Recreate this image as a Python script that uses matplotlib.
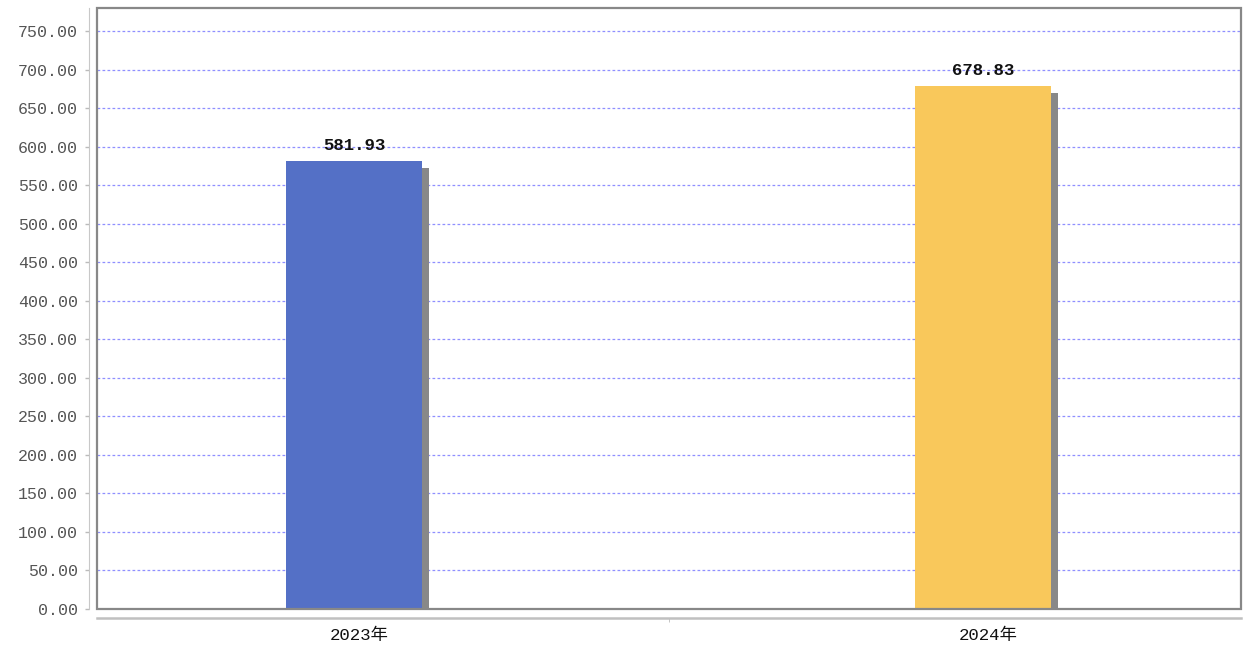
import matplotlib.pyplot as plt
from matplotlib import transforms
from matplotlib.patches import Rectangle

plt.rcParams['font.family'] = ['Liberation Mono', 'Noto Sans CJK SC', 'DejaVu Sans']

years = ['2023年', '2024年']
values = [581.93, 678.83]
bar_colors = ['#5470C6', '#F9C85B']
y_ticks = list(range(0, 751, 50))

fig = plt.figure(figsize=(12.45, 6.49), dpi=100)
ax = fig.add_axes([97 / 1245, 40 / 649, 1144 / 1245, 601 / 649])

x = list(range(len(years)))
width = 0.216

# тень столбцов: тот же столбец, сдвинутый на 7 px вправо и вниз
shadow = transforms.offset_copy(ax.transData, fig=fig, x=7, y=-7, units='dots')
ax.bar(x, values, width=width, color='#888888', transform=shadow, zorder=2)
ax.bar(x, values, width=width, color=bar_colors, zorder=3)

for xi, v in zip(x, values):
    ax.text(xi, v + 10, '%.2f' % v, ha='center', va='bottom', fontsize=12.5,
            fontweight='bold', color='#111111', zorder=4)

ax.set_xlim(-0.409, 1.410)
ax.set_ylim(0, 780)

ax.set_yticks(y_ticks)
ax.set_yticklabels(['%.2f' % t for t in y_ticks])
ax.set_xticks([xi + 0.008 for xi in x])
ax.set_xticklabels(years, family=['Noto Sans CJK SC', 'DejaVu Sans'])
ax.set_xticks([0.5], minor=True)

ax.tick_params(axis='y', length=3, width=1, color='#bbbbbb', labelsize=12,
               labelcolor='#555555', pad=5)
ax.tick_params(axis='x', which='major', length=0, labelsize=12.5, labelcolor='#111111', pad=7)
ax.tick_params(axis='x', which='minor', length=3, color='#bbbbbb')

ax.grid(axis='y', color='#8f8fff', linestyle=(0, (2.2, 1.8)), linewidth=0.9, zorder=1)

for s in ['top', 'right']:
    ax.spines[s].set_visible(False)
ax.spines['left'].set_position(('outward', 5.8))
ax.spines['bottom'].set_position(('outward', 6.5))
ax.spines['left'].set_color('#c8c8c8')
ax.spines['bottom'].set_color('#c0c0c0')
ax.spines['bottom'].set_linewidth(1.8)

# рамка области построения
ax.add_patch(Rectangle((0, 0), 1, 1, transform=ax.transAxes, fill=False,
                       edgecolor='#888888', linewidth=1.6, zorder=5, clip_on=False))

fig.savefig('out.png', dpi=100)
